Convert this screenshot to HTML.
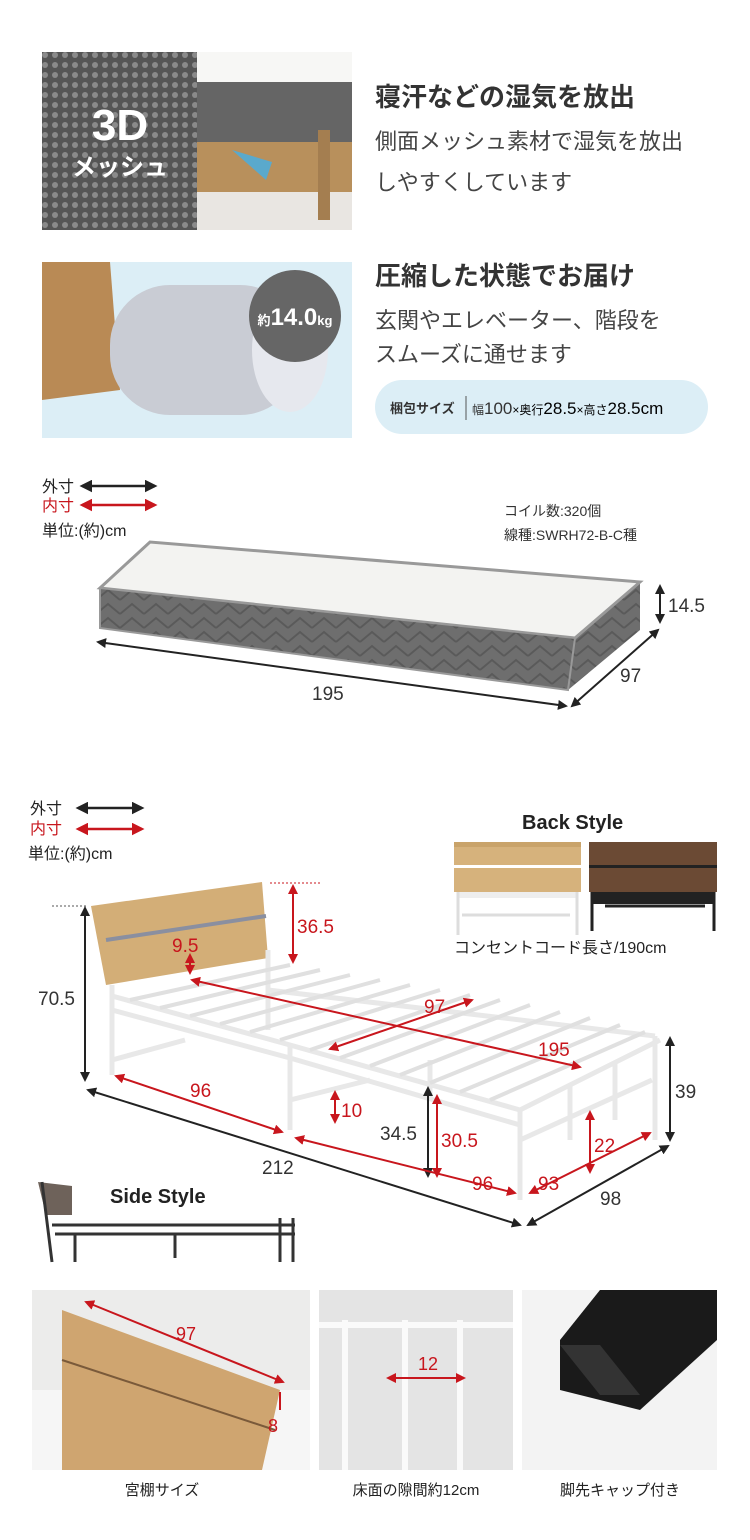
<!DOCTYPE html>
<html><head><meta charset="utf-8">
<style>
html,body{margin:0;padding:0;background:#fff;}
svg{display:block;font-family:"Liberation Sans","Noto Sans CJK JP",sans-serif;}
</style></head><body>
<svg width="750" height="1540" viewBox="0 0 750 1540" xmlns="http://www.w3.org/2000/svg">
<defs>
<marker id="ak" viewBox="0 0 10 10" refX="8" refY="5" markerWidth="5" markerHeight="5" orient="auto-start-reverse"><path d="M0,0L10,5L0,10z" fill="#222"/></marker>
<marker id="ar" viewBox="0 0 10 10" refX="8" refY="5" markerWidth="5" markerHeight="5" orient="auto-start-reverse"><path d="M0,0L10,5L0,10z" fill="#c8161d"/></marker>
<pattern id="mesh" width="10" height="10" patternUnits="userSpaceOnUse"><rect width="10" height="10" fill="#555"/><circle cx="5" cy="5" r="3" fill="#8a8a8a"/></pattern>
<pattern id="zig" width="24" height="14" patternUnits="userSpaceOnUse"><rect width="24" height="14" fill="#6e6e6e"/><path d="M0,12L12,2L24,12" stroke="#5a5a5a" stroke-width="2" fill="none"/></pattern>
</defs>

<!-- Section 1 -->
<rect x="42" y="52" width="155" height="178" fill="url(#mesh)"/>
<text x="120" y="140" text-anchor="middle" font-size="44" font-weight="bold" fill="#fff">3D</text>
<text x="120" y="175" text-anchor="middle" font-size="24" font-weight="bold" fill="#fff">メッシュ</text>
<rect x="197" y="52" width="155" height="178" fill="#e9e6e2"/>
<rect x="197" y="52" width="155" height="45" fill="#f7f7f5"/>
<rect x="197" y="82" width="155" height="60" fill="#656565"/>
<rect x="197" y="142" width="155" height="50" fill="#b8905c"/>
<path d="M232,150 l40,12 l-6,18 z" fill="#5aa9cc"/>
<rect x="318" y="130" width="12" height="90" fill="#a47e50"/>
<text x="375" y="106" font-size="26" font-weight="bold" fill="#333">寝汗などの湿気を放出</text>
<text x="375" y="149" font-size="22" fill="#444">側面メッシュ素材で湿気を放出</text>
<text x="375" y="190" font-size="22" fill="#444">しやすくしています</text>

<!-- Section 2 -->
<rect x="42" y="262" width="310" height="176" fill="#dceef6"/>
<path d="M42,262 L110,262 L120,390 L42,400 z" fill="#b98a55"/>
<rect x="110" y="285" width="190" height="130" rx="60" fill="#c9ccd4"/>
<ellipse cx="290" cy="350" rx="38" ry="62" fill="#e6e8ee"/>
<circle cx="295" cy="316" r="46" fill="#666"/>
<text x="295" y="325" text-anchor="middle" fill="#fff" font-weight="bold"><tspan font-size="13">約</tspan><tspan font-size="24">14.0</tspan><tspan font-size="13">kg</tspan></text>
<text x="375" y="285" font-size="26" font-weight="bold" fill="#333">圧縮した状態でお届け</text>
<text x="375" y="328" font-size="22" fill="#444">玄関やエレベーター、階段を</text>
<text x="375" y="362" font-size="22" fill="#444">スムーズに通せます</text>
<rect x="375" y="380" width="333" height="54" rx="27" fill="#dceef6"/>
<text x="390" y="413" font-size="13" font-weight="bold" fill="#333">梱包サイズ</text>
<line x1="466" y1="396" x2="466" y2="420" stroke="#555"/>
<text x="472" y="414"><tspan font-size="12" fill="#333">幅</tspan><tspan font-size="17" fill="#333">100</tspan><tspan font-size="12">×奥行</tspan><tspan font-size="17">28.5</tspan><tspan font-size="12">×高さ</tspan><tspan font-size="17">28.5cm</tspan></text>

<!-- Legend 1 -->
<text x="42" y="492" font-size="16" fill="#222">外寸</text>
<line x1="82" y1="486" x2="155" y2="486" stroke="#222" stroke-width="2.5" marker-start="url(#ak)" marker-end="url(#ak)"/>
<text x="42" y="511" font-size="16" fill="#c8161d">内寸</text>
<line x1="82" y1="505" x2="155" y2="505" stroke="#c8161d" stroke-width="2.5" marker-start="url(#ar)" marker-end="url(#ar)"/>
<text x="42" y="536" font-size="16" fill="#222">単位:(約)cm</text>
<text x="504" y="516" font-size="14" fill="#333">コイル数:320個</text>
<text x="504" y="540" font-size="14" fill="#333">線種:SWRH72-B-C種</text>

<!-- Mattress -->
<path d="M100,588 L150,542 L640,582 L640,630 L568,690 L100,628 z" fill="url(#zig)"/>
<path d="M100,588 L150,542 L640,582 L575,638 z" fill="#f3f3f1" stroke="#999" stroke-width="3"/>
<path d="M575,638 L568,690 L100,628 L100,588 z" fill="url(#zig)" stroke="#999" stroke-width="2"/>
<line x1="660" y1="586" x2="660" y2="622" stroke="#222" stroke-width="2" marker-start="url(#ak)" marker-end="url(#ak)"/>
<text x="668" y="612" font-size="19" fill="#333">14.5</text>
<line x1="98" y1="642" x2="566" y2="706" stroke="#222" stroke-width="2" marker-start="url(#ak)" marker-end="url(#ak)"/>
<text x="312" y="700" font-size="19" fill="#333">195</text>
<line x1="572" y1="706" x2="658" y2="630" stroke="#222" stroke-width="2" marker-start="url(#ak)" marker-end="url(#ak)"/>
<text x="620" y="682" font-size="19" fill="#333">97</text>

<!-- Legend 2 -->
<text x="30" y="814" font-size="16" fill="#222">外寸</text>
<line x1="78" y1="808" x2="142" y2="808" stroke="#222" stroke-width="2.5" marker-start="url(#ak)" marker-end="url(#ak)"/>
<text x="30" y="834" font-size="16" fill="#c8161d">内寸</text>
<line x1="78" y1="829" x2="142" y2="829" stroke="#c8161d" stroke-width="2.5" marker-start="url(#ar)" marker-end="url(#ar)"/>
<text x="28" y="859" font-size="16" fill="#222">単位:(約)cm</text>

<!-- Back style -->
<text x="522" y="829" font-size="20" font-weight="bold" fill="#222">Back Style</text>
<rect x="454" y="842" width="127" height="50" fill="#d6b27c"/>
<rect x="454" y="842" width="127" height="5" fill="#c9a36a"/>
<rect x="454" y="865" width="127" height="3" fill="#fff"/>
<rect x="458" y="892" width="120" height="6" fill="#eee"/>
<g stroke="#ddd" stroke-width="3"><line x1="458" y1="892" x2="458" y2="935"/><line x1="577" y1="892" x2="577" y2="935"/><line x1="462" y1="915" x2="570" y2="915"/></g>
<rect x="589" y="842" width="128" height="50" fill="#6b4a34"/>
<rect x="589" y="865" width="128" height="3" fill="#222"/>
<rect x="592" y="892" width="122" height="12" fill="#222"/>
<g stroke="#222" stroke-width="3"><line x1="592" y1="892" x2="592" y2="931"/><line x1="714" y1="892" x2="714" y2="931"/><line x1="605" y1="906" x2="705" y2="906"/></g>
<text x="454" y="953" font-size="16" fill="#222">コンセントコード長さ/190cm</text>

<!-- Bed frame -->
<path d="M91,906 L262,882 L268,958 L106,985 z" fill="#d3ae77"/>
<line x1="106" y1="940" x2="266" y2="916" stroke="#8a8fa0" stroke-width="4"/>
<g stroke="#e8e8e8" stroke-width="5" fill="none">
<path d="M112,985 L112,1075"/><path d="M268,950 L268,1030"/>
<path d="M112,996 L290,1045 L520,1110 L660,1040"/>
<path d="M112,1010 L290,1058 L520,1125"/>
<path d="M268,990 L655,1036"/>
<path d="M290,1045 L290,1130"/><path d="M520,1110 L520,1200"/><path d="M655,1036 L655,1140"/>
<path d="M430,1060 L430,1100"/>
<path d="M112,1060 L185,1040"/><path d="M290,1100 L370,1080"/>
<path d="M520,1140 L652,1080"/><path d="M570,1085 L570,1140"/><path d="M615,1063 L615,1120"/>
</g>
<g stroke="#e0e0e0" stroke-width="4">
<line x1="130" y1="1000" x2="290" y2="965"/><line x1="160" y1="1008" x2="320" y2="970"/><line x1="190" y1="1016" x2="350" y2="975"/><line x1="220" y1="1024" x2="380" y2="980"/><line x1="250" y1="1032" x2="410" y2="985"/><line x1="280" y1="1040" x2="440" y2="990"/><line x1="310" y1="1050" x2="470" y2="995"/><line x1="340" y1="1058" x2="500" y2="1000"/><line x1="370" y1="1066" x2="530" y2="1005"/><line x1="400" y1="1075" x2="560" y2="1012"/><line x1="430" y1="1083" x2="590" y2="1018"/><line x1="460" y1="1092" x2="620" y2="1025"/><line x1="490" y1="1100" x2="645" y2="1032"/>
</g>
<!-- dims -->
<line x1="52" y1="906" x2="88" y2="906" stroke="#555" stroke-dasharray="2,2"/>
<line x1="270" y1="883" x2="320" y2="883" stroke="#c8161d" stroke-dasharray="2,2"/>
<line x1="85" y1="908" x2="85" y2="1080" stroke="#222" stroke-width="2" marker-start="url(#ak)" marker-end="url(#ak)"/>
<text x="38" y="1005" font-size="19" fill="#333">70.5</text>
<line x1="293" y1="886" x2="293" y2="962" stroke="#c8161d" stroke-width="2" marker-start="url(#ar)" marker-end="url(#ar)"/>
<text x="297" y="933" font-size="19" fill="#c8161d">36.5</text>
<text x="172" y="952" font-size="19" fill="#c8161d">9.5</text>
<line x1="190" y1="955" x2="190" y2="973" stroke="#c8161d" stroke-width="2" marker-start="url(#ar)" marker-end="url(#ar)"/>
<line x1="192" y1="980" x2="580" y2="1067" stroke="#c8161d" stroke-width="2" marker-start="url(#ar)" marker-end="url(#ar)"/>
<text x="424" y="1013" font-size="19" fill="#c8161d">97</text>
<line x1="330" y1="1049" x2="472" y2="1000" stroke="#c8161d" stroke-width="2" marker-start="url(#ar)" marker-end="url(#ar)"/>
<text x="538" y="1056" font-size="19" fill="#c8161d">195</text>
<line x1="116" y1="1076" x2="282" y2="1132" stroke="#c8161d" stroke-width="2" marker-start="url(#ar)" marker-end="url(#ar)"/>
<text x="190" y="1097" font-size="19" fill="#c8161d">96</text>
<line x1="335" y1="1092" x2="335" y2="1122" stroke="#c8161d" stroke-width="2" marker-start="url(#ar)" marker-end="url(#ar)"/>
<text x="341" y="1117" font-size="19" fill="#c8161d">10</text>
<line x1="428" y1="1088" x2="428" y2="1176" stroke="#222" stroke-width="2" marker-start="url(#ak)" marker-end="url(#ak)"/>
<text x="380" y="1140" font-size="19" fill="#333">34.5</text>
<line x1="437" y1="1096" x2="437" y2="1176" stroke="#c8161d" stroke-width="2" marker-start="url(#ar)" marker-end="url(#ar)"/>
<text x="441" y="1147" font-size="19" fill="#c8161d">30.5</text>
<line x1="296" y1="1138" x2="515" y2="1193" stroke="#c8161d" stroke-width="2" marker-start="url(#ar)" marker-end="url(#ar)"/>
<text x="472" y="1190" font-size="19" fill="#c8161d">96</text>
<line x1="530" y1="1193" x2="650" y2="1133" stroke="#c8161d" stroke-width="2" marker-start="url(#ar)" marker-end="url(#ar)"/>
<text x="538" y="1190" font-size="19" fill="#c8161d">93</text>
<line x1="590" y1="1112" x2="590" y2="1172" stroke="#c8161d" stroke-width="2" marker-start="url(#ar)" marker-end="url(#ar)"/>
<text x="594" y="1152" font-size="19" fill="#c8161d">22</text>
<line x1="670" y1="1038" x2="670" y2="1140" stroke="#222" stroke-width="2" marker-start="url(#ak)" marker-end="url(#ak)"/>
<text x="675" y="1098" font-size="19" fill="#333">39</text>
<line x1="88" y1="1090" x2="520" y2="1225" stroke="#222" stroke-width="2" marker-start="url(#ak)" marker-end="url(#ak)"/>
<text x="262" y="1174" font-size="19" fill="#333">212</text>
<line x1="528" y1="1225" x2="668" y2="1146" stroke="#222" stroke-width="2" marker-start="url(#ak)" marker-end="url(#ak)"/>
<text x="600" y="1205" font-size="19" fill="#333">98</text>

<!-- Side style -->
<text x="110" y="1203" font-size="20" font-weight="bold" fill="#222">Side Style</text>
<path d="M38,1182 L72,1186 L72,1215 L46,1215 z" fill="#6e625a"/>
<g stroke="#333" stroke-width="3" fill="none">
<path d="M42,1182 L52,1262"/><path d="M52,1225 L295,1225"/><path d="M55,1234 L295,1234"/><path d="M75,1234 L75,1262"/><path d="M175,1234 L175,1258"/><path d="M280,1218 L280,1262"/><path d="M293,1218 L293,1262"/>
</g>

<!-- Bottom photos -->
<rect x="32" y="1290" width="278" height="180" fill="#ececeb"/>
<rect x="32" y="1390" width="278" height="80" fill="#f6f6f6"/>
<path d="M62,1310 L280,1390 L262,1470 L62,1470 z" fill="#cfa570"/>
<line x1="62" y1="1360" x2="275" y2="1430" stroke="#7a5a3a" stroke-width="2"/>
<line x1="86" y1="1302" x2="283" y2="1382" stroke="#c8161d" stroke-width="2" marker-start="url(#ar)" marker-end="url(#ar)"/>
<text x="176" y="1340" font-size="18" fill="#c8161d">97</text>
<line x1="280" y1="1392" x2="280" y2="1410" stroke="#c8161d" stroke-width="2"/>
<text x="268" y="1432" font-size="18" fill="#c8161d">8</text>
<rect x="319" y="1290" width="194" height="180" fill="#e4e4e4"/>
<g stroke="#fafafa" stroke-width="6"><line x1="345" y1="1320" x2="345" y2="1470"/><line x1="405" y1="1320" x2="405" y2="1470"/><line x1="460" y1="1320" x2="460" y2="1470"/><line x1="319" y1="1325" x2="513" y2="1325"/></g>
<line x1="388" y1="1378" x2="464" y2="1378" stroke="#c8161d" stroke-width="2" marker-start="url(#ar)" marker-end="url(#ar)"/>
<text x="418" y="1370" font-size="18" fill="#c8161d">12</text>
<rect x="522" y="1290" width="195" height="180" fill="#f3f3f3"/>
<path d="M600,1290 L717,1290 L717,1340 L640,1410 L560,1390 L560,1340 z" fill="#1a1a1a"/>
<path d="M560,1345 L600,1345 L640,1395 L600,1395 z" fill="#333"/>
<text x="162" y="1495" text-anchor="middle" font-size="15" fill="#222">宮棚サイズ</text>
<text x="416" y="1495" text-anchor="middle" font-size="15" fill="#222">床面の隙間約12cm</text>
<text x="620" y="1495" text-anchor="middle" font-size="15" fill="#222">脚先キャップ付き</text>
</svg>
</body></html>
